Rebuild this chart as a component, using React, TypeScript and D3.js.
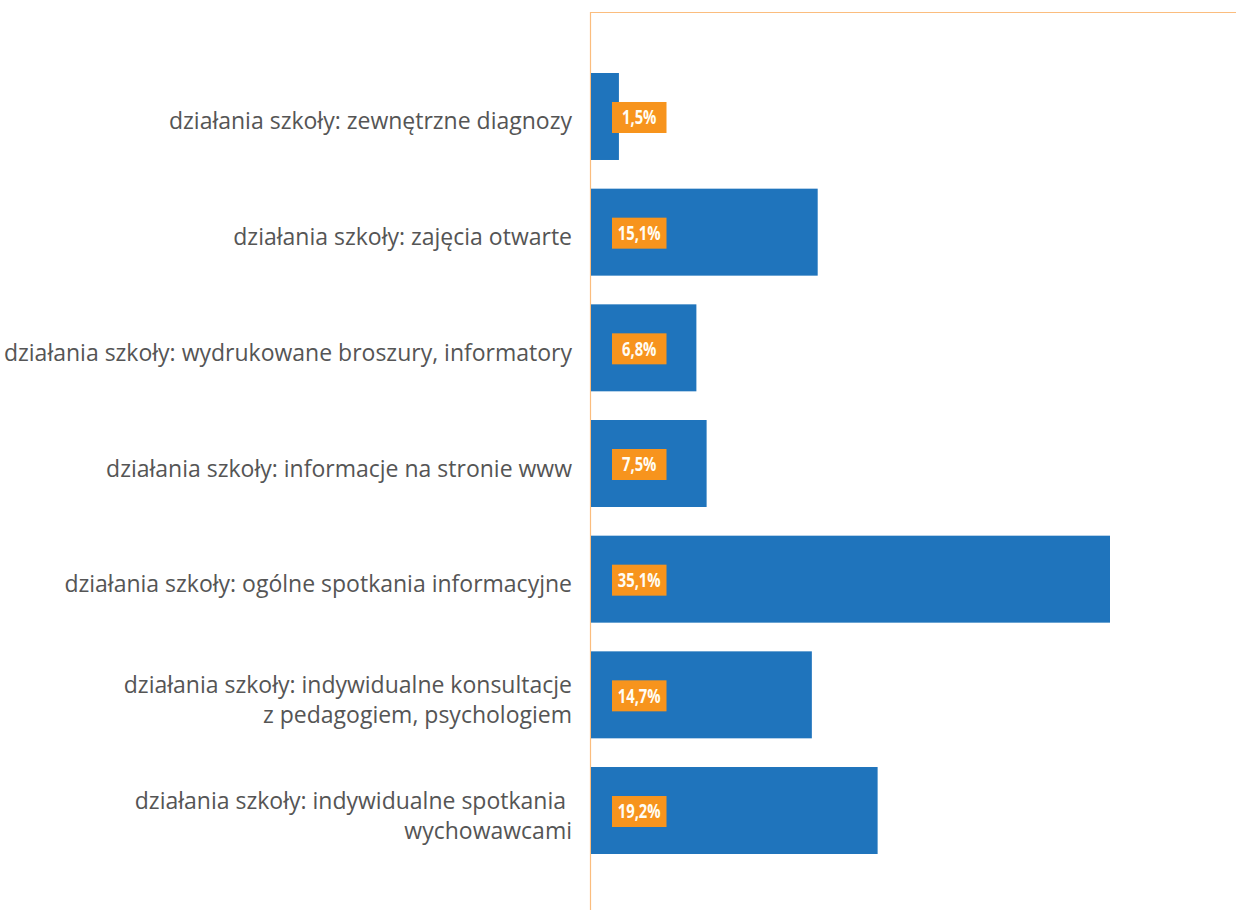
import React from "react";
import * as d3 from "d3";

const categories: string[][] = [
  ["działania szkoły: zewnętrzne diagnozy"],
  ["działania szkoły: zajęcia otwarte"],
  ["działania szkoły: wydrukowane broszury, informatory"],
  ["działania szkoły: informacje na stronie www"],
  ["działania szkoły: ogólne spotkania informacyjne"],
  ["działania szkoły: indywidualne konsultacje", "z pedagogiem, psychologiem"],
  ["działania szkoły: indywidualne spotkania ", "wychowawcami"],
];
const values: number[] = [1.5, 15.1, 6.8, 7.5, 35.1, 14.7, 19.2];
const valueLabels: string[] = ["1,5%", "15,1%", "6,8%", "7,5%", "35,1%", "14,7%", "19,2%"];

const W = 1236;
const H = 910;
const barStart = 591;
const BLUE = "#1f74bc";
const ORANGE = "#f7941d";
const AXIS = "#fbbd7e";

export default function App() {
  const x = d3.scaleLinear().domain([0, 35.1]).range([597, 1110]);
  const y = d3
    .scaleBand<number>()
    .domain(d3.range(values.length))
    .range([73, 854])
    .paddingInner(0.248)
    .paddingOuter(0);
  const bw = y.bandwidth();

  return (
    <svg
      width={W}
      height={H}
      style={{ position: "absolute", left: 0, top: 0, background: "#fff" }}
    >
      {/* frame lines */}
      <line x1={590.5} x2={W} y1={12.5} y2={12.5} stroke={AXIS} strokeWidth={1.2} />
      <line x1={590.5} x2={590.5} y1={12} y2={H} stroke={AXIS} strokeWidth={1.2} />

      {values.map((v, i) => {
        const top = y(i)!;
        const cy = top + bw / 2;
        const boxCy = cy + 1;
        const lines = categories[i];
        return (
          <g key={i}>
            <rect x={barStart} y={top} width={x(v) - barStart} height={bw} fill={BLUE} />
            <rect x={612} y={boxCy - 15.5} width={54.5} height={31} fill={ORANGE} />
            {/* condensed value label: bold face squeezed horizontally */}
            <g transform={`translate(639.2, ${boxCy + 6.8}) scale(0.76, 1)`}>
              <text
                x={0}
                y={0}
                textAnchor="middle"
                fill="#fffdf5"
                fontFamily="'Open Sans', sans-serif"
                fontWeight={700}
                fontSize={19.5}
              >
                {valueLabels[i]}
              </text>
            </g>
            {lines.map((t, k) => (
              <text
                key={k}
                x={572}
                y={cy + 13 + (k - (lines.length - 1) / 2) * 30}
                textAnchor="end"
                fill="#555555"
                fontFamily="'Open Sans', sans-serif"
                fontSize={23}
                style={{ whiteSpace: "pre" }}
              >
                {t}
              </text>
            ))}
          </g>
        );
      })}
    </svg>
  );
}
